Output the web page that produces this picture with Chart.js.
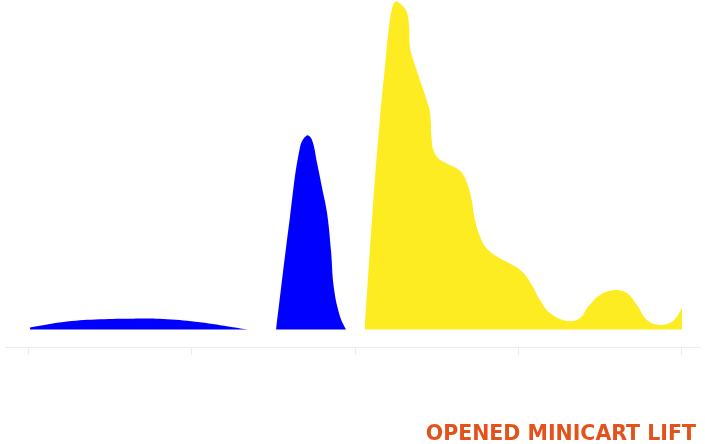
<!DOCTYPE html>
<html>
<head>
<meta charset="utf-8">
<script src="https://cdn.jsdelivr.net/npm/chart.js@4/dist/chart.umd.min.js"></script>
<style>
  html, body { margin: 0; padding: 0; background: #ffffff; }
  #wrap { width: 705px; height: 444px; }
</style>
</head>
<body>
<div id="wrap"><canvas id="c" width="705" height="444"></canvas></div>
<script>
// Tick positions on the x axis
const xTicks = [0, 1, 2, 3, 4];

// Series 1 (blue, low wide hump)
const blueLowX = [0.009, 0.236, 0.438, 0.640, 0.848, 1.050, 1.252, 1.344];
const blueLowY = [0.6, 2.4, 3.1, 3.3, 3.1, 2.2, 0.7, 0];

// Series 2 (blue, tall narrow peak)
const bluePeakX = [1.516, 1.601, 1.663, 1.705, 1.736, 1.767, 1.797, 1.828, 1.852, 1.870, 1.908, 1.944];
const bluePeakY = [0, 34.1, 55.4, 58.9, 57.5, 50.5, 43.2, 35.4, 24.1, 12.6, 3.9, 0];

// Series 3 (yellow)
const yellowX = [2.058, 2.112, 2.153, 2.183, 2.203, 2.224, 2.247, 2.285, 2.316, 2.330, 2.336, 2.356,
                 2.397, 2.438, 2.459, 2.469, 2.479, 2.509, 2.561, 2.622, 2.663, 2.693, 2.714, 2.734,
                 2.765, 2.806, 2.887, 3.010, 3.071, 3.132, 3.193, 3.298, 3.377, 3.426, 3.500, 3.592,
                 3.665, 3.726, 3.787, 3.867, 3.947, 4.002];
const yellowY = [0, 39.3, 64.6, 79.8, 89.9, 97.0, 99.5, 98.5, 96.4, 92.4, 85.7, 81.8,
                 75.7, 69.7, 65.7, 57.5, 54.5, 52.0, 50.4, 48.9, 46.9, 43.3, 39.3, 33.2,
                 28.2, 24.6, 21.6, 18.1, 14.4, 9.0, 5.0, 2.6, 3.5, 6.8, 10.5, 12.0,
                 11.1, 7.4, 2.9, 1.4, 2.6, 6.5];

const titleText = 'OPENED MINICART LIFT';

function pts(xs, ys) { return xs.map((x, i) => ({ x: x, y: ys[i] })); }

function area(xs, ys, color) {
  return {
    data: pts(xs, ys),
    backgroundColor: color,
    borderColor: color,
    borderWidth: 0,
    pointRadius: 0,
    fill: 'origin',
    tension: 0.4
  };
}

new Chart(document.getElementById('c'), {
  type: 'line',
  data: {
    datasets: [
      area(blueLowX, blueLowY, '#0000ff'),
      area(bluePeakX, bluePeakY, '#0000ff'),
      area(yellowX, yellowY, '#fdec22')
    ]
  },
  options: {
    responsive: false,
    animation: false,
    layout: { padding: { left: 5, right: 5, top: 0, bottom: 0 } },
    plugins: {
      legend: { display: false },
      tooltip: { enabled: false },
      title: {
        display: true,
        text: titleText + '\u2009',
        position: 'bottom',
        align: 'end',
        color: '#e4521b',
        font: { family: 'DejaVu Sans', size: 20.5, weight: 'bold', lineHeight: '18px' },
        padding: { top: 71, bottom: 0 }
      }
    },
    scales: {
      x: {
        type: 'linear',
        min: -0.1439,
        max: 4.112,
        afterBuildTicks: (s) => { s.ticks = xTicks.map(v => ({ value: v })); },
        ticks: { display: false },
        grid: { drawOnChartArea: false, drawTicks: true, tickLength: 8, color: '#ececec' },
        border: { display: true, color: '#ececec', width: 1 }
      },
      y: {
        display: false,
        min: -5.311,
        max: 100
      }
    }
  }
});
</script>
</body>
</html>
